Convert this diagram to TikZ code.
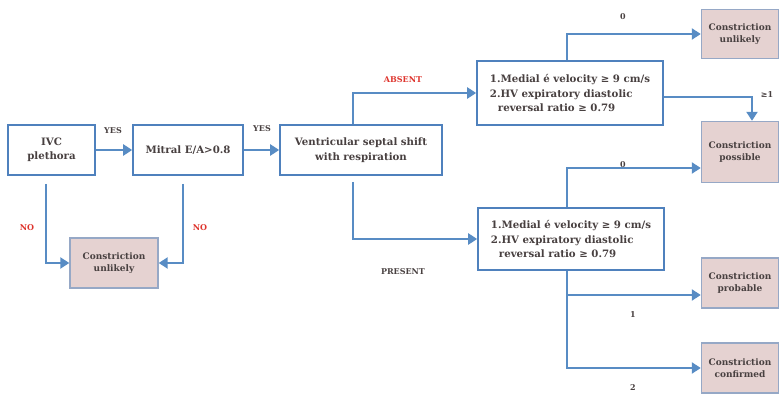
\documentclass[tikz,border=0pt]{standalone}
\usepackage{fontspec}
\setmainfont{DejaVu Serif}
\usetikzlibrary{arrows.meta}
\definecolor{boxblue}{RGB}{79,129,189}
\definecolor{arrowblue}{RGB}{88,140,196}
\definecolor{pinkfill}{RGB}{229,210,209}
\definecolor{pinkedge}{RGB}{150,168,198}
\definecolor{txtgray}{RGB}{72,64,64}
\definecolor{lblred}{RGB}{222,52,45}

\begin{document}
\begin{tikzpicture}[x=1pt,y=-1pt,
    box/.style={draw=boxblue,line width=1.6pt,fill=white,align=center,text=txtgray,
      font=\bfseries\fontsize{10.2}{14.5}\selectfont,inner sep=2pt},
    pinkbox/.style={draw=pinkedge,line width=1.4pt,fill=pinkfill,align=center,text=txtgray,
      font=\bfseries\fontsize{9}{12.5}\selectfont,minimum width=77pt,minimum height=50pt},
    arr/.style={draw=arrowblue,line width=2.6pt,-{Triangle[length=9pt,width=11pt]}},
    lbl/.style={text=txtgray,font=\bfseries\fontsize{8}{9}\selectfont,inner sep=1pt}]
  \useasboundingbox (0,0) rectangle (780,395);

  % first steps: IVC and mitral inflow
  \node[box,minimum width=87pt,minimum height=50pt] (ivc) at (51.5,150) {IVC\\plethora};
  \node[box,minimum width=110pt,minimum height=50pt] (mitral) at (188,150) {Mitral E/A>0.8};
  \node[pinkbox,minimum width=88pt] (unlk1) at (114,263) {Constriction\\unlikely};
  \node[box,minimum width=162pt,minimum height=50pt] (vent) at (361,150) {Ventricular septal shift\\with respiration};

  % criteria boxes (same two criteria in both branches)
  \node[box,align=left,minimum width=186pt,minimum height=64pt] (crit1) at (570,93)
    {1.Medial é velocity ≥ 9 cm/s\\2.HV expiratory diastolic\\\hspace*{8pt}reversal ratio ≥ 0.79};
  \node[box,align=left,minimum width=186pt,minimum height=62pt] (crit2) at (571,239)
    {1.Medial é velocity ≥ 9 cm/s\\2.HV expiratory diastolic\\\hspace*{8pt}reversal ratio ≥ 0.79};

  % outcomes on the right
  \foreach \nm/\y/\h/\txt in {unlk2/34/49/unlikely, poss/152/61/possible,
      prob/283/50/probable, conf/368/50/confirmed} {
    \node[pinkbox,minimum height=\h pt] (\nm) at (740,\y) {Constriction\\\txt};
  }

  % connectors
  \draw[arr] (ivc) -- (mitral);
  \draw[arr] (mitral) -- (vent);
  \draw[arr] ([xshift=-5.5pt,yshift=-8pt]ivc.south) |- (unlk1.west);
  \draw[arr] ([xshift=-5pt,yshift=-8pt]mitral.south) |- (unlk1.east);
  \draw[arr] ([xshift=-8pt]vent.north) |- (crit1.west);
  \draw[arr] ([xshift=-8pt,yshift=-6pt]vent.south) |- (crit2.west);
  \draw[arr] ([xshift=-3pt]crit1.north) |- (unlk2.west);
  \draw[arr] ([yshift=-4pt]crit1.east) -| ([xshift=12pt]poss.north);
  \draw[arr] ([xshift=-4pt]crit2.north) |- ([yshift=-16pt]poss.west);
  \draw[arr] ([xshift=-4pt]crit2.south) |- ([yshift=-12pt]prob.west);
  \draw[arr] ([xshift=-4pt]crit2.south) |- (conf.west);

  % branch labels
  \node[lbl] (yes1) at (113,131) {YES};
  \node[lbl] (yes2) at (262,129) {YES};
  \node[lbl,text=lblred] (no1) at (27,228) {NO};
  \node[lbl,text=lblred] (no2) at (200,228) {NO};
  \node[lbl,text=lblred] (absent) at (403,80) {ABSENT};
  \node[lbl] (present) at (403,272) {PRESENT};
  \node[lbl] (zero1) at (623,17) {0};
  \node[lbl] (geone) at (767,95) {≥1};
  \node[lbl] (zero2) at (623,165) {0};
  \node[lbl] (one) at (633,315) {1};
  \node[lbl] (two) at (633,388) {2};
\end{tikzpicture}
\end{document}
